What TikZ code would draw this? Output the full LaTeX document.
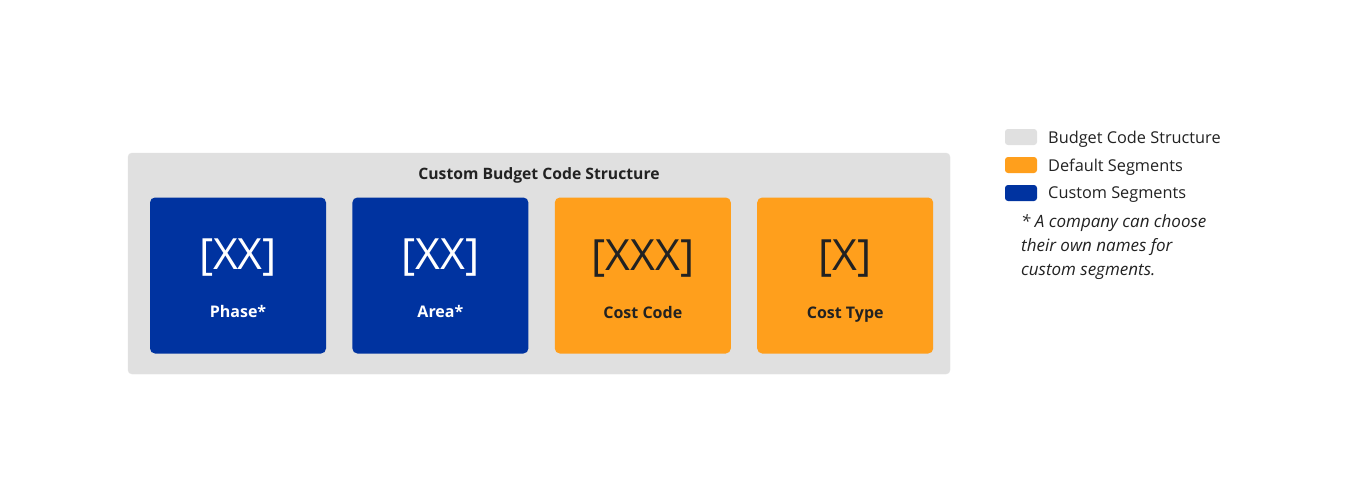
\documentclass[tikz,border=0pt]{standalone}
\usepackage{fontspec}
\setmainfont{Open Sans}
\usetikzlibrary{positioning}
\definecolor{segblue}{HTML}{0033A0}
\definecolor{segorange}{HTML}{FF9F1C}
\definecolor{structgray}{HTML}{E0E0E0}
\definecolor{textdark}{HTML}{222222}
\begin{document}
\begin{tikzpicture}[x=1pt, y=-1pt, node distance={26pt},
    struct/.style = {fill=structgray, draw=structgray!90!white, rounded corners=4pt, minimum width=822pt, minimum height=221pt, inner sep=0pt},
    seg/.style = {rounded corners=5pt, minimum width=176pt, minimum height=156pt, inner sep=0pt},
    custom/.style = {seg, fill=segblue},
    default/.style = {seg, fill=segorange},
    segcode/.style = {anchor=base, font=\fontsize{43}{48}\selectfont, inner sep=0pt},
    segname/.style = {anchor=base, font=\fontsize{16}{19}\selectfont\bfseries, inner sep=0pt},
    swatch/.style = {rounded corners=3pt, minimum width=32pt, minimum height=16pt, inner sep=0pt},
    legendtext/.style = {anchor=base west, inner sep=0pt, text=textdark, font=\fontsize{16.3}{19}\selectfont}]

    \useasboundingbox[fill=white] (0,0) rectangle (1348,503);

    \node[struct] (struct) at (539,263.5) {};
    \node[segname, text=textdark, font=\fontsize{15.7}{19}\selectfont\bfseries] (title) at ([yshift=-27pt]struct.north) {Custom Budget Code Structure};

    \node[custom] (phase) at (238,275.5) {};
    \node[custom] (area) [right=of phase] {};
    \node[default] (costcode) [right=of area] {};
    \node[default] (costtype) [right=of costcode] {};

    \node[segcode, text=white] at ([yshift=6pt]phase.center) {[XX]};
    \node[segname, text=white] at ([yshift=-42pt]phase.center) {Phase*};
    \node[segcode, text=white] at ([yshift=6pt]area.center) {[XX]};
    \node[segname, text=white] at ([yshift=-42pt]area.center) {Area*};
    \node[segcode, text=textdark] at ([yshift=5pt]costcode.center) {[XXX]};
    \node[segname, text=textdark] at ([yshift=-43pt]costcode.center) {Cost Code};
    \node[segcode, text=textdark] at ([yshift=5pt]costtype.center) {[X]};
    \node[segname, text=textdark] at ([yshift=-43pt]costtype.center) {Cost Type};

    % legend
    \node[swatch, fill=structgray] (sgray) at (1021,137) {};
    \node[swatch, fill=segorange] (sorange) at (1021,165) {};
    \node[swatch, fill=segblue] (sblue) at (1021,193) {};
    \node[legendtext] at (1048,143) {Budget Code Structure};
    \node[legendtext] at (1048,171) {Default Segments};
    \node[legendtext] at (1048,198.5) {Custom Segments};
    \node[legendtext, font=\fontsize{17}{24}\selectfont\itshape] at (1021,227) {* A company can choose};
    \node[legendtext, font=\fontsize{17}{24}\selectfont\itshape] at (1021,251) {their own names for};
    \node[legendtext, font=\fontsize{17}{24}\selectfont\itshape] at (1021,275) {custom segments.};
\end{tikzpicture}
\end{document}
